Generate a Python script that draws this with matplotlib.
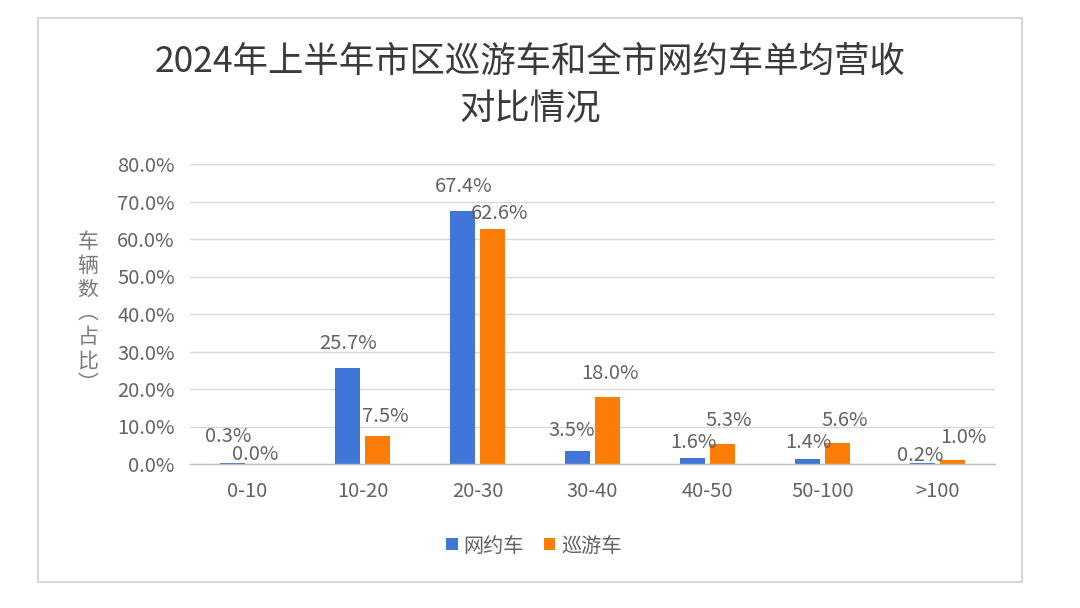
import matplotlib
matplotlib.use("Agg")
import matplotlib.pyplot as plt
from matplotlib.patches import Rectangle
import numpy as np

plt.rcParams['font.family'] = ['Noto Sans CJK SC', 'DejaVu Sans']

categories = ["0-10", "10-20", "20-30", "30-40", "40-50", "50-100", ">100"]
wangyue = [0.3, 25.7, 67.4, 3.5, 1.6, 1.4, 0.2]     # 网约车 (%)
xunyou = [0.0, 7.5, 62.6, 18.0, 5.3, 5.6, 1.0]      # 巡游车 (%)
series_names = ["网约车", "巡游车"]
yticks = [0, 10, 20, 30, 40, 50, 60, 70, 80]
title = "2024年上半年市区巡游车和全市网约车单均营收\n对比情况"
ylabel = "车辆数︵占比︶"

# label placement (pixel offsets from bar top), as in the reference
lab_dx = {0: [-4, 1, 1, -6, 1, 1, -2], 1: [-8, 8, 7, 2, 6, 7, 11]}
lab_dy = {0: [26, 24, 25, 20, 15, 16, 8], 1: [9, 19, 16, 23, 24, 23, 23]}

blue = "#3F76D7"
orange = "#FB7D08"
text_gray = "#636363"

W, H = 1080, 608
fig = plt.figure(figsize=(W / 100, H / 100), dpi=100)
fig.patch.set_facecolor("white")

# chart border
fig.patches.append(Rectangle((38 / W, 1 - 582 / H), (1022 - 38) / W, (582 - 18) / H,
                             transform=fig.transFigure, fill=False,
                             edgecolor="#D0D0D0", linewidth=1.2))

ax = fig.add_axes([190 / W, 1 - 464 / H, 805 / W, 300 / H])
x = np.arange(len(categories))
bw = 0.215
gap = 0.05
b1 = ax.bar(x - (bw + gap) / 2, wangyue, bw, color=blue, label=series_names[0], zorder=3)
b2 = ax.bar(x + (bw + gap) / 2, xunyou, bw, color=orange, label=series_names[1], zorder=3)

ax.set_xlim(-0.5, len(categories) - 0.5)
ax.set_ylim(0, 80)
ax.set_yticks(yticks)
ax.set_yticklabels([f"{v:.1f}%" for v in yticks], fontsize=14.5, color=text_gray)
ax.set_xticks(x)
ax.set_xticklabels(categories, fontsize=14.5, color=text_gray)
ax.tick_params(axis="both", length=0)
ax.tick_params(axis="y", pad=11)
ax.tick_params(axis="x", pad=12)
ax.grid(axis="y", color="#D9D9D9", linewidth=1.0, zorder=0)
for s in ["top", "right", "left"]:
    ax.spines[s].set_visible(False)
ax.spines["bottom"].set_color("#BFBFBF")
ax.spines["bottom"].set_linewidth(1.0)
ax.spines["bottom"].set_zorder(4)

for si, (bars, vals) in enumerate([(b1, wangyue), (b2, xunyou)]):
    for i, (r, v) in enumerate(zip(bars, vals)):
        ax.annotate(f"{v:.1f}%", (r.get_x() + r.get_width() / 2, r.get_height()),
                    xytext=(lab_dx[si][i], lab_dy[si][i]), textcoords="offset pixels",
                    ha="center", va="center", fontsize=14.5, color=text_gray, zorder=5)

fig.text(530 / W, 1 - 86 / H, title, ha="center", va="center",
         fontsize=25.5, color="#3A3A3A", linespacing=1.42)

fig.text(88 / W, 1 - 313 / H, "\n".join(ylabel), ha="center", va="center",
         fontsize=15, color="#7A7A7A", linespacing=1.1)

leg = fig.legend(handles=[b1, b2], labels=series_names, loc="center",
                 bbox_to_anchor=(534 / W, 1 - 546 / H), ncol=2, frameon=False,
                 fontsize=14.5, handlelength=0.55, handleheight=0.55,
                 handletextpad=0.3, columnspacing=1.0)
for t in leg.get_texts():
    t.set_color(text_gray)

fig.savefig("out.png", dpi=100, facecolor="white")
